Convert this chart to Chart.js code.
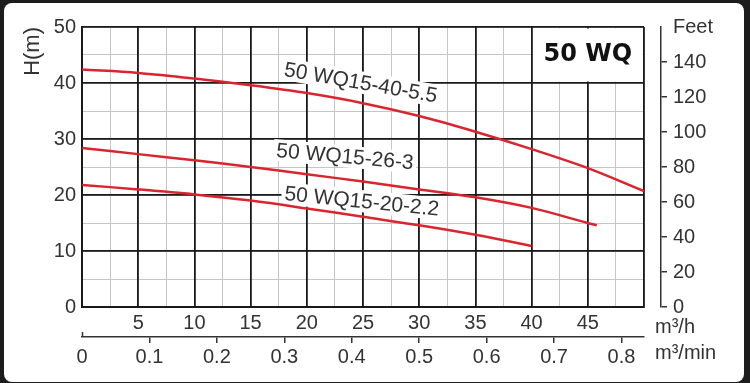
<!DOCTYPE html>
<html><head><meta charset="utf-8">
<script src="https://cdn.jsdelivr.net/npm/chart.js@4.4.1/dist/chart.umd.min.js"></script>
<style>
html,body{margin:0;padding:0;background:#1c1c1c;width:750px;height:383px;overflow:hidden}
#wrap{position:absolute;left:4px;top:3px;width:740px;height:379px;background:#fff;border-radius:8px}
canvas{display:block}
</style></head><body>
<div id="wrap"><canvas id="c" width="740" height="379"></canvas></div>
<script>
const modelTitle = '50 WQ';
const curveNames = ['50 WQ15-40-5.5', '50 WQ15-26-3', '50 WQ15-20-2.2'];
// flow in m3/h, head in m
const flowA = [0, 5, 10, 15, 20, 25, 30, 35, 40, 45, 50];
const headA = [42.4, 41.8, 40.8, 39.6, 38.2, 36.4, 34.1, 31.3, 28.2, 24.8, 20.7];
const flowB = [0, 5, 10, 15, 20, 25, 30, 35, 40, 45, 45.8];
const headB = [28.4, 27.3, 26.2, 25.0, 23.7, 22.4, 21.0, 19.6, 17.7, 15.0, 14.6];
const flowC = [0, 5, 10, 15, 20, 25, 30, 35, 40];
const headC = [21.8, 21.0, 20.1, 19.0, 17.6, 16.1, 14.6, 12.9, 10.9];
const minTicks = [0, 0.1, 0.2, 0.3, 0.4, 0.5, 0.6, 0.7, 0.8];
const unitFlowH = 'm³/h';
const unitFlowMin = 'm³/min';
const unitHead = 'H(m)';
const unitFeet = 'Feet';

const FONT = '"Liberation Sans", Arial, sans-serif';
const BOLDFONT = '"DejaVu Sans", sans-serif';
const TXT = '#333';
const MAJOR = '#1a1a1a';
const MINOR = '#c6c6c6';
const RED = '#d9252f';

function pts(xs, ys){ return xs.map((v,i)=>({x:v, y:ys[i]})); }

const labelPlugin = {
  id: 'curveLabels',
  beforeDatasetsDraw(chart, args, opts){
    const {ctx} = chart;
    const x = chart.scales.x, y = chart.scales.y;
    ctx.save();
    const bx1 = x.getPixelForValue(40), bx2 = x.getPixelForValue(50);
    const by1 = y.getPixelForValue(50), by2 = y.getPixelForValue(40);
    ctx.fillStyle = '#fff';
    ctx.fillRect(bx1+1.5, by1+1.5, bx2-bx1-3, by2-by1-3);
    ctx.font = 'bold 24px ' + BOLDFONT;
    ctx.fillStyle = '#111';
    ctx.textAlign = 'center';
    ctx.textBaseline = 'middle';
    ctx.fillText(modelTitle, (bx1+bx2)/2, (by1+by2)/2);
    ctx.font = '21px ' + FONT;
    opts.items.forEach(it=>{
      const px = x.getPixelForValue(it.q), py = y.getPixelForValue(it.h);
      ctx.save();
      ctx.translate(px, py);
      ctx.rotate(it.angle*Math.PI/180);
      const w = ctx.measureText(it.text).width;
      ctx.fillStyle = '#fff';
      ctx.fillRect(-w/2-3, -11, w+6, 22);
      ctx.fillStyle = TXT;
      ctx.textAlign = 'center';
      ctx.textBaseline = 'middle';
      ctx.fillText(it.text, 0, 1);
      ctx.restore();
    });
    ctx.restore();
  },
  afterDraw(chart){
    const {ctx, chartArea} = chart;
    const x2 = chart.scales.x2;
    ctx.save();
    ctx.font = '20px ' + FONT;
    ctx.fillStyle = TXT;
    ctx.textAlign = 'left';
    ctx.textBaseline = 'middle';
    ctx.fillText(unitFlowH, chartArea.right + 11, chartArea.bottom + 20);
    ctx.fillText(unitFlowMin, chartArea.right + 11, x2.top + 16);
    ctx.strokeStyle = TXT;
    ctx.lineWidth = 1.5;
    ctx.beginPath();
    ctx.moveTo(x2.left + 0.5, x2.top - 5);
    ctx.lineTo(x2.left + 0.5, x2.top);
    ctx.stroke();
    ctx.restore();
  }
};

const ds = (label, data) => ({
  label, data, borderColor: RED, borderWidth: 2.5, pointRadius: 0,
  tension: 0.35, fill: false
});

new Chart(document.getElementById('c'), {
  type: 'line',
  data: {
    datasets: [
      ds(curveNames[0], pts(flowA, headA)),
      ds(curveNames[1], pts(flowB, headB)),
      ds(curveNames[2], pts(flowC, headC))
    ]
  },
  options: {
    responsive: false,
    animation: false,
    layout: {padding: {top: 24, left: 0, right: 0, bottom: 0}},
    plugins: {
      legend: {display: false},
      tooltip: {enabled: false},
      curveLabels: {
        items: [
          {text: curveNames[0], q: 24.8, h: 40.1, angle: 10},
          {text: curveNames[1], q: 23.4, h: 26.9, angle: 5.2},
          {text: curveNames[2], q: 24.9, h: 18.9, angle: 5.8}
        ]
      }
    },
    scales: {
      x: {
        type: 'linear', position: 'bottom', min: 0, max: 50, weight: 0,
        ticks: {stepSize: 5, padding: 4, color: TXT, font: {family: FONT, size: 20},
          maxRotation: 0, autoSkip: false,
          callback: v => (v > 0 && v < 50) ? String(v) : ''},
        grid: {color: MAJOR, lineWidth: 1.8, drawTicks: false, z: -1},
        border: {color: MAJOR, width: 2},
        afterFit: s => { s.height = 30; }
      },
      x2: {
        type: 'linear', position: 'bottom', min: 0, max: 50/60, weight: 1,
        afterBuildTicks: s => { s.ticks = minTicks.map(v => ({value: v})); },
        ticks: {padding: 2, color: TXT, font: {family: FONT, size: 20},
          maxRotation: 0, autoSkip: false,
          callback: v => String(Math.round(v*10)/10)},
        grid: {display: true, drawOnChartArea: false, drawTicks: true, tickLength: 6, lineWidth: 1.5,
          tickColor: c => (c.tick && Math.abs(c.tick.value) < 1e-6) ? 'rgba(0,0,0,0)' : TXT},
        border: {color: TXT, width: 1.5},
        afterFit: s => { s.height = 45; }
      },
      xMinor: {
        type: 'linear', position: 'bottom', min: 0, max: 50, weight: 2,
        ticks: {display: false, stepSize: 2.5},
        grid: {color: MINOR, lineWidth: 1, drawTicks: false, z: -2},
        border: {display: false},
        afterFit: s => { s.height = 0; }
      },
      y: {
        type: 'linear', position: 'left', min: 0, max: 50, weight: 0,
        ticks: {stepSize: 10, padding: 6, color: TXT, font: {family: FONT, size: 20}},
        grid: {color: MAJOR, lineWidth: 1.8, drawTicks: false, z: -1},
        border: {color: MAJOR, width: 2},
        title: {display: true, text: unitHead, align: 'end', color: TXT,
          font: {family: FONT, size: 22}, padding: {top: 16, bottom: 0}},
        afterFit: s => { s.width = 78; }
      },
      yMinor: {
        type: 'linear', position: 'left', min: 0, max: 50, weight: 1,
        ticks: {display: false, stepSize: 5},
        grid: {color: MINOR, lineWidth: 1, drawTicks: false, z: -2},
        border: {display: false},
        afterFit: s => { s.width = 0; }
      },
      ySpacer: {
        type: 'linear', position: 'right', min: 0, max: 1, weight: 0,
        ticks: {display: false},
        grid: {display: false},
        border: {display: false},
        afterFit: s => { s.width = 17; }
      },
      yFeet: {
        type: 'linear', position: 'right', min: 0, max: 160, weight: 1,
        ticks: {stepSize: 20, padding: 6, color: TXT, font: {family: FONT, size: 20},
          callback: v => v === 160 ? unitFeet : String(v)},
        grid: {display: true, drawOnChartArea: false, drawTicks: true, tickLength: 6, lineWidth: 1.5,
          tickColor: c => (c.tick && c.tick.value === 160) ? 'rgba(0,0,0,0)' : TXT},
        border: {color: TXT, width: 1.5},
        afterFit: s => { s.width = 83; }
      }
    }
  },
  plugins: [labelPlugin]
});
</script>
</body></html>
